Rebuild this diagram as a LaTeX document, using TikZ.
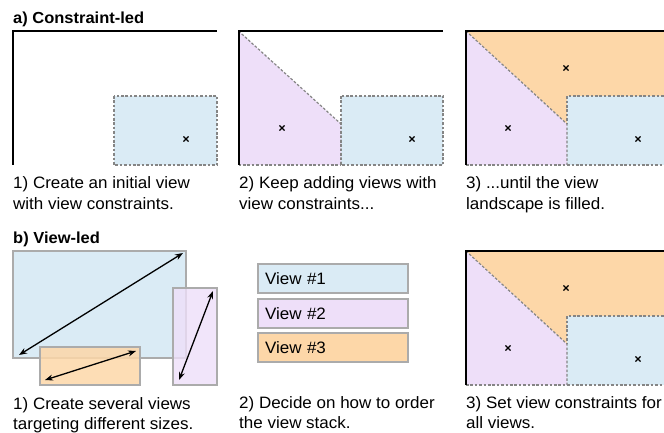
\documentclass[tikz,border=0pt]{standalone}
\usepackage{fontspec}
\setmainfont{Liberation Sans}[FakeStretch=1.03]
\usetikzlibrary{arrows.meta,shapes.misc}

\definecolor{vblue}{HTML}{DAEBF5}
\definecolor{vpurple}{HTML}{EEDFF9}
\definecolor{vorange}{HTML}{FDD7A8}
\definecolor{vgrey}{HTML}{ABABAB}
\definecolor{seamgrey}{HTML}{858585}

\tikzset{
  frame/.style={line width=2pt, black, line join=miter},
  seam/.style={seamgrey, line width=1.2pt, dash pattern=on 2.6pt off 1.8pt},
  xmark/.style={cross out, draw=black, line width=1.1pt, minimum size=4pt, inner sep=0pt},
  caption/.style={anchor=base west, inner sep=0pt, font=\fontsize{16.5}{20}\selectfont},
  heading/.style={anchor=base west, inner sep=0pt, font=\fontsize{16}{18}\selectfont\bfseries},
  sizebox/.style={draw=vgrey, line width=2pt},
  span/.style={{Stealth[length=8pt,width=6pt]}-{Stealth[length=8pt,width=6pt]}, line width=1.3pt},
  stackbox/.style={draw=vgrey, line width=2pt, minimum width=150pt, minimum height=29pt,
    text width=136pt, inner xsep=7pt, align=left, font=\fontsize{16.5}{20}\selectfont}
}

\begin{document}
\begin{tikzpicture}[x=1pt,y=-1pt]
\useasboundingbox (0,0) rectangle (664,433);

% ---------- a) Constraint-led ----------
\node[heading] (ta) at (13,24) {a) Constraint-led};

% step 1: a single view
\fill[vblue] (114,96) rectangle (217,165);
\draw[seam] (114,96) rectangle (217,165);
\draw[frame] (13,165) -- (13,31) -- (217,31);
\node[xmark] (a1b) at (186,139) {};
\node[caption] (ca1l1) at (13,189) {1) Create an initial view};
\node[caption] (ca1l2) at (13,209) {with view constraints.};

% step 2: a second view
\fill[vpurple] (238.5,31) -- (341,124) -- (341,165) -- (238.5,165) -- cycle;
\fill[vblue] (341,96) rectangle (443,165);
\draw[seam] (238.5,31) -- (341,124) -- (341,165);
\draw[seam] (341,96) rectangle (443,165);
\draw[seam] (238.5,165) -- (341,165);
\draw[frame] (238.5,165) -- (238.5,31) -- (443,31);
\node[xmark] (a2p) at (282,128) {};
\node[xmark] (a2b) at (412,139) {};
\node[caption] (ca2l1) at (239,189) {2) Keep adding views with};
\node[caption] (ca2l2) at (239,209) {view constraints...};

% step 3 and the final landscape of part b share one drawing
\foreach \dy/\tag in {0/a3, 220/b3} {
  \begin{scope}[shift={(0,\dy)}]
    \fill[vorange] (466,31) -- (668,31) -- (668,96) -- (567,96) -- (567,124) -- cycle;
    \fill[vpurple] (466,31) -- (567,124) -- (567,165) -- (466,165) -- cycle;
    \fill[vblue] (567,96) rectangle (668,165);
    \draw[seam] (466,31) -- (567,124) -- (567,165);
    \draw[seam] (668,96) -- (567,96) -- (567,124);
    \draw[seam] (466,165) -- (668,165);
    \draw[frame] (466,165) -- (466,31) -- (668,31);
    \node[xmark] (\tag o) at (566,68) {};
    \node[xmark] (\tag p) at (508,128) {};
    \node[xmark] (\tag b) at (638,139) {};
  \end{scope}
}
\node[caption] (ca3l1) at (466,189) {3) ...until the view};
\node[caption] (ca3l2) at (466,209) {landscape is filled.};

% ---------- b) View-led ----------
\node[heading] (tb) at (13,243) {b) View-led};

% step 1: views of different sizes
\draw[sizebox, fill=vblue] (13,251) rectangle (186,358);
\draw[sizebox, fill=vorange, fill opacity=0.85] (40,347) rectangle (140,385);
\draw[sizebox, fill=vpurple, fill opacity=0.8] (173,288) rectangle (217,385);
\coordinate (bl1) at (19,355);
\coordinate (bl2) at (183,253);
\coordinate (or1) at (45,380);
\coordinate (or2) at (136,351);
\coordinate (pu1) at (179,380);
\coordinate (pu2) at (213,291);
\draw[span] (bl1) -- (bl2);
\draw[span] (or1) -- (or2);
\draw[span] (pu1) -- (pu2);
\node[caption] (cb1l1) at (13,409) {1) Create several views};
\node[caption] (cb1l2) at (13,429) {targeting different sizes.};

% step 2: the view stack
\node[stackbox, fill=vblue]   (v1) at (333,278.7) {View \#1};
\node[stackbox, fill=vpurple] (v2) at (333,313.2) {View \#2};
\node[stackbox, fill=vorange] (v3) at (333,347.3) {View \#3};
\node[caption] (cb2l1) at (239,408) {2) Decide on how to order};
\node[caption] (cb2l2) at (239,428) {the view stack.};

% step 3 caption
\node[caption] (cb3l1) at (466,408) {3) Set view constraints for};
\node[caption] (cb3l2) at (466,428) {all views.};
\end{tikzpicture}
\end{document}
